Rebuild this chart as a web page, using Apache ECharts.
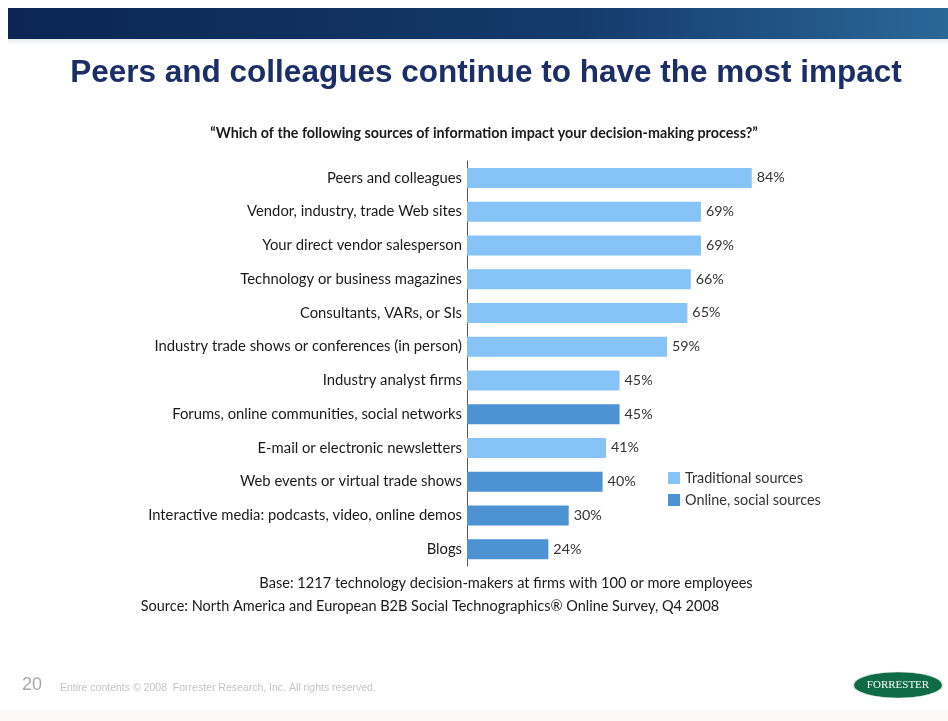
<!DOCTYPE html>
<html><head><meta charset="utf-8">
<script src="https://cdn.jsdelivr.net/npm/echarts@6/dist/echarts.min.js"></script>
<style>html,body{margin:0;padding:0;background:#fff}#c{width:948px;height:721px}</style>
</head><body><div id="c"></div>
<script>
const categories = ["Peers and colleagues","Vendor, industry, trade Web sites","Your direct vendor salesperson","Technology or business magazines","Consultants, VARs, or SIs","Industry trade shows or conferences (in person)","Industry analyst firms","Forums, online communities, social networks","E-mail or electronic newsletters","Web events or virtual trade shows","Interactive media: podcasts, video, online demos","Blogs"];
const traditional = [84,69,69,66,65,59,45,'-',41,'-','-','-'];
const online = ['-','-','-','-','-','-','-',45,'-',40,30,24];
const seriesNames = ["Traditional sources","Online, social sources"];

const chart = echarts.init(document.getElementById('c'));
const F = 'Lato, "Open Sans", sans-serif';
const lbl = {show:true, position:'right', distance:5, formatter:'{c}%', color:'#333', fontFamily:F, fontSize:14.3};
chart.setOption({
  animation:false,
  backgroundColor:'#fff',
  title:[
    {text:'Peers and colleagues continue to have the most impact', left:481, textAlign:'center', top:52,
     textStyle:{fontFamily:'"Liberation Sans", Arial, sans-serif', fontWeight:'bold', fontSize:31.5, color:'#1b2f66'}},
    {text:'\u201CWhich of the following sources of information impact your decision-making process?\u201D', left:479, textAlign:'center', top:121,
     textStyle:{fontFamily:F, fontWeight:'bold', fontSize:14.3, color:'#1a1a1a'}}
  ],
  legend:{orient:'vertical', left:663, top:466, itemWidth:12, itemHeight:12, itemGap:8, icon:'rect',
    textStyle:{fontFamily:F, fontSize:14.4, color:'#333'}, data:seriesNames},
  grid:{left:467, width:339, top:161, height:405},
  xAxis:{type:'value', min:0, max:100, show:false},
  yAxis:{type:'category', data:categories, inverse:true,
    axisLine:{show:true, lineStyle:{color:'#555', width:1}}, axisTick:{show:false},
    axisLabel:{fontFamily:F, fontSize:14.8, color:'#1a1a1a', margin:5}},
  series:[
    {name:seriesNames[0], type:'bar', stack:'a', data:traditional, barWidth:20, itemStyle:{color:'#86c3f6'}, label:lbl},
    {name:seriesNames[1], type:'bar', stack:'a', data:online, barWidth:20, itemStyle:{color:'#4d92d2'}, label:lbl}
  ],
  graphic:[
    {type:'rect', shape:{x:8,y:8,width:940,height:31}, style:{fill:new echarts.graphic.LinearGradient(0,0,1,0,[{offset:0,color:'#0b2652'},{offset:0.6,color:'#143a6b'},{offset:1,color:'#2a6898'}])}, z:1},
    {type:'rect', shape:{x:8,y:39,width:940,height:6}, style:{fill:new echarts.graphic.LinearGradient(0,0,0,1,[{offset:0,color:'#e6e9ee'},{offset:1,color:'#ffffff'}])}, z:1},
    {type:'text', x:22, y:676, style:{text:'20', fontFamily:'"Liberation Sans", Arial, sans-serif', fontSize:18, fill:'#a8a8a8'}},
    {type:'text', x:60, y:683, style:{text:'Entire contents \u00A9 2008  Forrester Research, Inc. All rights reserved.', fontFamily:'"Liberation Sans", Arial, sans-serif', fontSize:10.5, fill:'#c4c4c4'}},
    {type:'text', x:506, y:576, style:{text:'Base: 1217 technology decision-makers at firms with 100 or more employees', fontFamily:F, fontSize:14.6, fill:'#1a1a1a', align:'center'}},
    {type:'text', x:430, y:599, style:{text:'Source: North America and European B2B Social Technographics\u00AE Online Survey, Q4 2008', fontFamily:F, fontSize:14.5, fill:'#1a1a1a', align:'center'}},
    {type:'circle', shape:{cx:0,cy:0,r:13}, x:898, y:685, scaleX:3.45, scaleY:1, style:{fill:'#0f6b45', stroke:'#d8e8de', lineWidth:0.5}},
    {type:'text', x:898, y:685, style:{text:'FORRESTER', fontFamily:'"Liberation Serif", "DejaVu Serif", serif', fontSize:11, fill:'#fff', align:'center', verticalAlign:'middle'}},
    {type:'rect', shape:{x:0,y:710,width:948,height:11}, style:{fill:'#fbfaf7'}}
  ]
});
</script></body></html>
